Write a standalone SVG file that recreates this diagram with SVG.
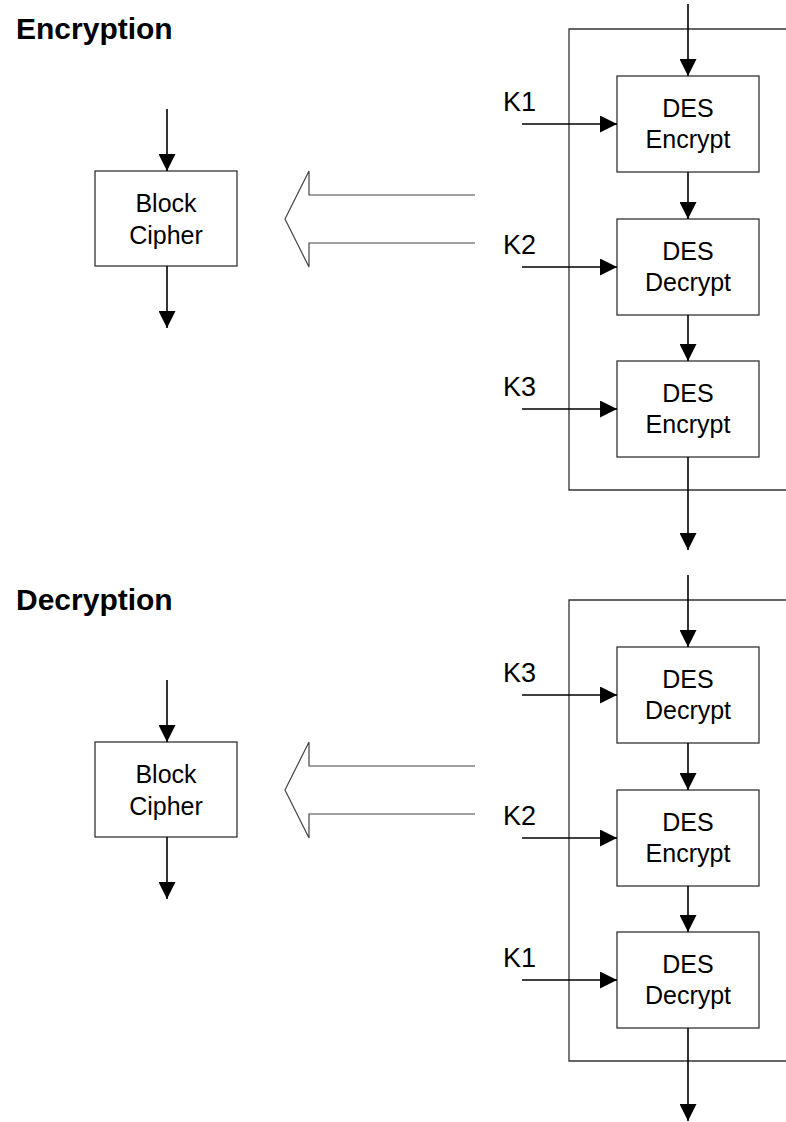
<svg xmlns="http://www.w3.org/2000/svg" width="786" height="1122" viewBox="0 0 786 1122">
<defs>
<marker id="ah" markerUnits="userSpaceOnUse" markerWidth="17" markerHeight="17" refX="17" refY="8.5" orient="auto">
<path d="M0,0 L17,8.5 L0,17 Z" fill="#000"/>
</marker>
<style>
.box{fill:#fff;stroke:#333;stroke-width:1.3}
.frame{fill:none;stroke:#333;stroke-width:1.3}
.big{fill:none;stroke:#444;stroke-width:1.2}
.ln{fill:none;stroke:#000;stroke-width:1.6;marker-end:url(#ah)}
.t{font-family:"Liberation Sans",Arial,sans-serif;font-size:25px;fill:#000;text-anchor:middle}
.k{font-family:"Liberation Sans",Arial,sans-serif;font-size:27px;fill:#000}
.h{font-family:"Liberation Sans",Arial,sans-serif;font-size:30px;font-weight:bold;fill:#000}
</style>
</defs>
<rect width="786" height="1122" fill="#fff"/>

<g id="encryption">
<text class="h" x="16" y="39">Encryption</text>
<path id="enc-frame" class="frame" d="M786,29 H569 V490 H786"/>
<g id="enc-bc"><rect class="box" x="95" y="171" width="142" height="95"/><text class="t" x="166" y="212">Block</text><text class="t" x="166" y="244">Cipher</text></g>
<path id="enc-bigarrow" class="big" d="M475,195 H309 V171 L285,219 L309,267 V243 H475"/>
<g id="enc-d1"><rect class="box" x="617" y="76" width="142" height="96"/><text class="t" x="688" y="117">DES</text><text class="t" x="688" y="148">Encrypt</text></g>
<g id="enc-d2"><rect class="box" x="617" y="219" width="142" height="96"/><text class="t" x="688" y="260">DES</text><text class="t" x="688" y="291">Decrypt</text></g>
<g id="enc-d3"><rect class="box" x="617" y="361" width="142" height="96"/><text class="t" x="688" y="402">DES</text><text class="t" x="688" y="433">Encrypt</text></g>
<text class="k" x="503" y="111">K1</text>
<text class="k" x="503" y="254">K2</text>
<text class="k" x="503" y="396">K3</text>
</g>

<g id="decryption">
<text class="h" x="16" y="610">Decryption</text>
<path id="dec-frame" class="frame" d="M786,600 H569 V1061 H786"/>
<g id="dec-bc"><rect class="box" x="95" y="742" width="142" height="95"/><text class="t" x="166" y="783">Block</text><text class="t" x="166" y="815">Cipher</text></g>
<path id="dec-bigarrow" class="big" d="M475,766 H309 V742 L285,790 L309,838 V814 H475"/>
<g id="dec-d1"><rect class="box" x="617" y="647" width="142" height="96"/><text class="t" x="688" y="688">DES</text><text class="t" x="688" y="719">Decrypt</text></g>
<g id="dec-d2"><rect class="box" x="617" y="790" width="142" height="96"/><text class="t" x="688" y="831">DES</text><text class="t" x="688" y="862">Encrypt</text></g>
<g id="dec-d3"><rect class="box" x="617" y="932" width="142" height="96"/><text class="t" x="688" y="973">DES</text><text class="t" x="688" y="1004">Decrypt</text></g>
<text class="k" x="503" y="682">K3</text>
<text class="k" x="503" y="825">K2</text>
<text class="k" x="503" y="967">K1</text>
</g>

<g id="connectors">
<path class="ln" d="M688,4 V76"/>
<path class="ln" d="M688,172 V219"/>
<path class="ln" d="M688,315 V361"/>
<path class="ln" d="M688,457 V550"/>
<path class="ln" d="M522,124 H617"/>
<path class="ln" d="M522,267 H617"/>
<path class="ln" d="M522,409 H617"/>
<path class="ln" d="M167,109 V171"/>
<path class="ln" d="M167,266 V328"/>

<path class="ln" d="M688,575 V647"/>
<path class="ln" d="M688,743 V790"/>
<path class="ln" d="M688,886 V932"/>
<path class="ln" d="M688,1028 V1121"/>
<path class="ln" d="M522,695 H617"/>
<path class="ln" d="M522,838 H617"/>
<path class="ln" d="M522,980 H617"/>
<path class="ln" d="M167,680 V742"/>
<path class="ln" d="M167,837 V899"/>
</g>
</svg>
